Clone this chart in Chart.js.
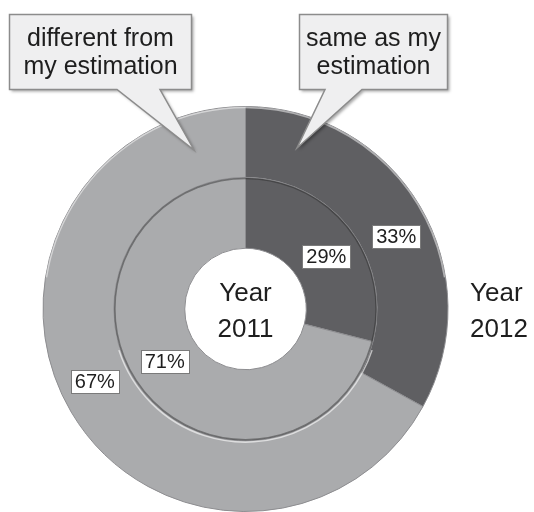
<!DOCTYPE html>
<html>
<head>
<meta charset="utf-8">
<script src="https://cdn.jsdelivr.net/npm/chart.js@4/dist/chart.umd.min.js"></script>
<style>
  html, body { margin: 0; padding: 0; background: #fff; }
  #wrap { width: 534px; height: 512px; }
</style>
</head>
<body>
<div id="wrap"><canvas id="myChart" width="534" height="512"></canvas></div>
<script>
var categories = ["same as my estimation", "different from my estimation"];
var calloutLines = [["same as my", "estimation"], ["different from", "my estimation"]];
var years = ["2012", "2011"];
var share2012 = [33, 67];
var share2011 = [29, 71];
var sliceColors = ["#5f5f62", "#aaabad"];

// percent boxes at each slice, the year captions and the two speech bubbles
var decorations = {
  id: "decorations",
  afterDatasetsDraw: function(chart) {
    var ctx = chart.ctx;
    var outer = chart.getDatasetMeta(0).data[0];
    var inner = chart.getDatasetMeta(1).data[0];
    var cx = outer.x, cy = outer.y;

    // groove between the rings
    ctx.save();
    ctx.beginPath();
    ctx.arc(cx, cy, inner.outerRadius - 1, 0, Math.PI * 2);
    ctx.strokeStyle = "rgba(40,40,40,0.45)";
    ctx.lineWidth = 1.5;
    ctx.stroke();
    ctx.beginPath();
    ctx.arc(cx, cy, inner.outerRadius + 1.5, 0.1 * Math.PI, 0.9 * Math.PI);
    ctx.strokeStyle = "rgba(255,255,255,0.6)";
    ctx.lineWidth = 1.5;
    ctx.stroke();
    ctx.beginPath();
    ctx.arc(cx, cy, outer.outerRadius - 1, 1.05 * Math.PI, 1.95 * Math.PI);
    ctx.strokeStyle = "rgba(255,255,255,0.5)";
    ctx.lineWidth = 1.5;
    ctx.stroke();
    ctx.restore();

    // percent labels
    ctx.save();
    ctx.font = "20px 'Liberation Sans', Arial, sans-serif";
    ctx.textAlign = "center";
    ctx.textBaseline = "middle";
    chart.data.datasets.forEach(function(ds, di) {
      chart.getDatasetMeta(di).data.forEach(function(arc, i) {
        var mid = (arc.startAngle + arc.endAngle) / 2 + 5 * Math.PI / 180;
        var r = (arc.innerRadius + arc.outerRadius) / 2;
        var x = cx + Math.cos(mid) * r;
        var y = cy + Math.sin(mid) * r;
        var text = ds.data[i] + "%";
        var w = ctx.measureText(text).width + 8, h = 23;
        ctx.fillStyle = "#ffffff";
        ctx.fillRect(Math.round(x - w / 2) + 0.5, Math.round(y - h / 2) + 0.5, Math.round(w), h);
        ctx.strokeStyle = "#7a7a7a";
        ctx.lineWidth = 1;
        ctx.strokeRect(Math.round(x - w / 2) + 0.5, Math.round(y - h / 2) + 0.5, Math.round(w), h);
        ctx.fillStyle = "#1e1e1e";
        ctx.fillText(text, x, y + 1);
      });
    });
    ctx.restore();

    // year captions
    ctx.save();
    ctx.font = "26px 'Liberation Sans', Arial, sans-serif";
    ctx.fillStyle = "#1e1e1e";
    ctx.textBaseline = "alphabetic";
    ctx.textAlign = "center";
    ctx.fillText("Year", cx, 301);
    ctx.fillText(years[1], cx, 337);
    ctx.textAlign = "left";
    ctx.fillText("Year", 470, 301);
    ctx.fillText(years[0], 470, 337);
    ctx.restore();

    // speech bubbles
    function bubble(x0, y0, x1, y1, b0, b1, tx, ty, lines) {
      ctx.save();
      ctx.beginPath();
      ctx.moveTo(x0, y0);
      ctx.lineTo(x1, y0);
      ctx.lineTo(x1, y1);
      ctx.lineTo(b1, y1);
      ctx.lineTo(tx, ty);
      ctx.lineTo(b0, y1);
      ctx.lineTo(x0, y1);
      ctx.closePath();
      ctx.shadowColor = "rgba(0,0,0,0.35)";
      ctx.shadowBlur = 3;
      ctx.shadowOffsetX = 2;
      ctx.shadowOffsetY = 2;
      ctx.fillStyle = "#efeff0";
      ctx.fill();
      ctx.shadowColor = "transparent";
      ctx.strokeStyle = "#8c8c8c";
      ctx.lineWidth = 1.5;
      ctx.stroke();
      ctx.font = "25px 'Liberation Sans', Arial, sans-serif";
      ctx.fillStyle = "#1e1e1e";
      ctx.textAlign = "center";
      ctx.textBaseline = "alphabetic";
      ctx.fillText(lines[0], (x0 + x1) / 2, 46);
      ctx.fillText(lines[1], (x0 + x1) / 2, 74);
      ctx.restore();
    }
    bubble(9.5, 14.5, 191.5, 89.5, 117, 160, 194, 150, calloutLines[1]);
    bubble(299.5, 14.5, 447.5, 89.5, 325, 362, 297, 148, calloutLines[0]);
  }
};

new Chart("myChart", {
  type: "doughnut",
  data: {
    labels: categories,
    datasets: [
      { label: years[0], data: share2012, backgroundColor: sliceColors, borderColor: "#8d8d90", borderWidth: 1, hoverOffset: 0 },
      { label: years[1], data: share2011, backgroundColor: sliceColors, borderColor: "#8d8d90", borderWidth: 1, hoverOffset: 0 }
    ]
  },
  options: {
    responsive: false,
    animation: false,
    cutout: "30%",
    layout: { padding: { left: 41, right: 84, top: 106, bottom: -3 } },
    plugins: {
      legend: { display: false },
      tooltip: { enabled: false }
    }
  },
  plugins: [decorations]
});
</script>
</body>
</html>
